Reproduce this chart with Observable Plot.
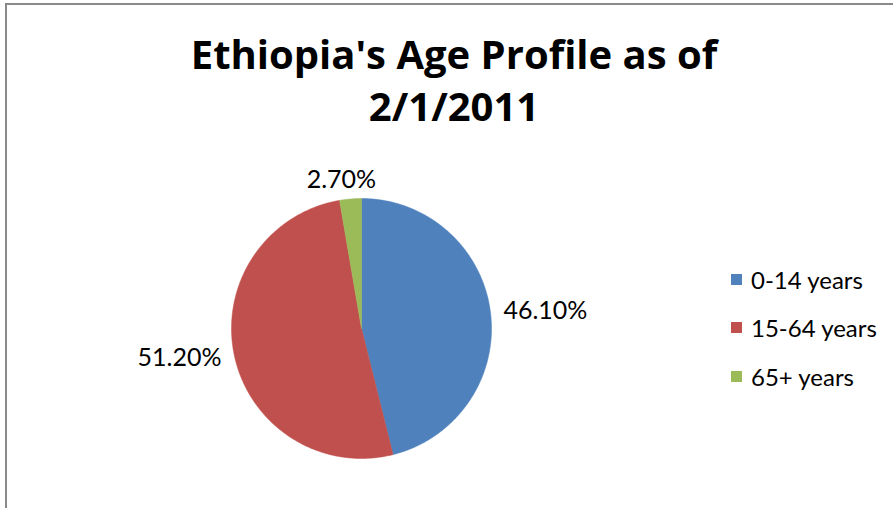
<!DOCTYPE html>
<html>
<head>
<meta charset="utf-8">
<script src="https://cdn.jsdelivr.net/npm/d3@7"></script>
<script src="https://cdn.jsdelivr.net/npm/@observablehq/plot@0.6"></script>
<style>
  html, body { margin: 0; padding: 0; background: #fff; }
  #wrap { position: relative; width: 893px; height: 508px; overflow: hidden; font-family: Lato, "Open Sans", sans-serif; }
  #border { position: absolute; left: 5px; top: 3px; width: 1000px; height: 1000px; border: 2px solid #8a8a8a; box-sizing: border-box; }
  #title { position: absolute; left: 0; width: 908px; top: 28px; text-align: center; font-family: "Open Sans", Lato, sans-serif; font-weight: bold; font-size: 40px; line-height: 52px; color: #000; }
  #chart { position: absolute; left: 0; top: 0; }
  #legend { position: absolute; left: 731px; top: 255px; font-size: 24px; color: #000; }
  .item { display: flex; align-items: center; height: 48.5px; }
  .sw { width: 11px; height: 11px; margin-right: 9px; }
</style>
</head>
<body>
<div id="wrap">
  <div id="border"></div>
  <div id="title">Ethiopia's Age Profile as of<br>2/1/2011</div>
  <div id="chart"></div>
  <div id="legend"></div>
</div>
<script>
const categories = ["0-14 years", "15-64 years", "65+ years"];
const values = [46.1, 51.2, 2.7];
const valueLabels = ["46.10%", "51.20%", "2.70%"];
const colors = ["#4F81BD", "#C0504D", "#9BBB59"];

const arcs = d3.pie().sort(null).value(d => d)(values);

// polygon points for each slice (center + arc)
const points = [];
arcs.forEach((a, i) => {
  const cat = categories[i];
  points.push({cat, x: 0, y: 0});
  const n = Math.max(4, Math.ceil((a.endAngle - a.startAngle) / (Math.PI / 360)));
  for (let k = 0; k <= n; k++) {
    const t = a.startAngle + (a.endAngle - a.startAngle) * k / n;
    points.push({cat, x: Math.sin(t), y: Math.cos(t)});
  }
  points.push({cat, x: 0, y: 0});
});

const labelR = 1.1;
const labels = arcs.map((a, i) => {
  const m = (a.startAngle + a.endAngle) / 2;
  const sx = Math.sin(m), cy = Math.cos(m);
  return {
    text: valueLabels[i],
    x: labelR * sx,
    y: labelR * cy,
    side: sx > 0.3 ? "start" : sx < -0.3 ? "end" : "middle"
  };
});

const labelFont = {fontSize: 25, fill: "#000", fontFamily: "Lato, 'Open Sans', sans-serif"};

const plot = Plot.plot({
  width: 893,
  height: 508,
  marginLeft: 231,
  marginRight: 402,
  marginTop: 198,
  marginBottom: 50,
  x: {domain: [-1, 1], axis: null},
  y: {domain: [-1, 1], axis: null},
  color: {domain: categories, range: colors},
  style: {background: "transparent", overflow: "visible"},
  marks: [
    Plot.line(points, {x: "x", y: "y", z: "cat", fill: "cat", stroke: "cat", strokeWidth: 0.5, curve: "linear"}),
    Plot.text(labels.filter(d => d.side === "start"), {x: "x", y: "y", text: "text", textAnchor: "start", ...labelFont}),
    Plot.text(labels.filter(d => d.side === "end"), {x: "x", y: "y", text: "text", textAnchor: "end", ...labelFont}),
    Plot.text(labels.filter(d => d.side === "middle"), {x: "x", y: "y", text: "text", textAnchor: "middle", lineAnchor: "bottom", dx: -8, dy: 2, ...labelFont})
  ]
});
document.getElementById("chart").appendChild(plot);

const legend = document.getElementById("legend");
categories.forEach((c, i) => {
  const item = document.createElement("div");
  item.className = "item";
  const sw = document.createElement("div");
  sw.className = "sw";
  sw.style.background = colors[i];
  const t = document.createElement("span");
  t.textContent = c;
  item.appendChild(sw);
  item.appendChild(t);
  legend.appendChild(item);
});
</script>
</body>
</html>
